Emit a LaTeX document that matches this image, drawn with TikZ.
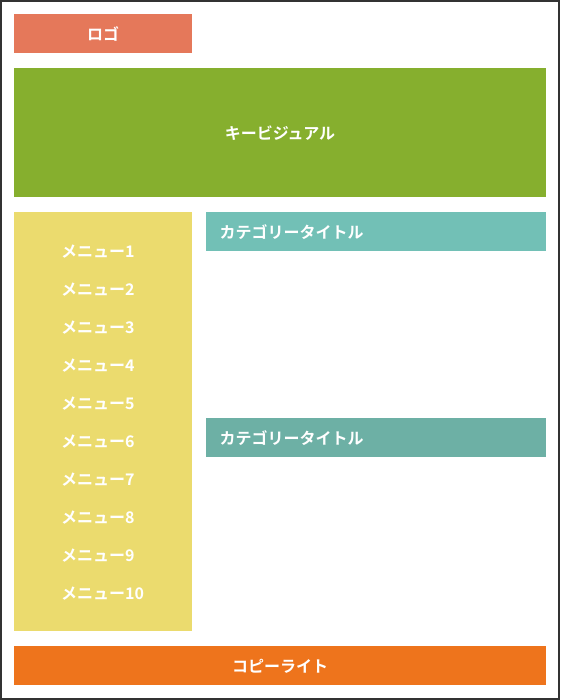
\documentclass[tikz,border=0pt]{standalone}
\usepackage{fontspec}
\setmainfont{Noto Sans CJK JP}[BoldFont={Noto Sans CJK JP Bold}]
\definecolor{logoc}{HTML}{E5785A}
\definecolor{kvc}{HTML}{86AF2E}
\definecolor{menuc}{HTML}{EBDB6E}
\definecolor{catA}{HTML}{72C0B6}
\definecolor{catB}{HTML}{6DB0A5}
\definecolor{copyc}{HTML}{EE741C}
\definecolor{framec}{HTML}{333333}
\newcommand{\dn}[1]{\raisebox{-1pt}[\height][\depth]{#1}}
\tikzset{
  block/.style={anchor=north west, inner sep=0pt, outer sep=0pt, draw=none, text=white,
    font=\fontsize{16}{19}\selectfont\bfseries},
  cattitle/.style={block, minimum width=340pt, minimum height=39pt, text width=313pt, align=left},
  menuitem/.style={anchor=west, inner sep=0pt, text=white, font=\fontsize{16}{19}\selectfont\bfseries},
}
\begin{document}
\begin{tikzpicture}[x=1pt,y=-1pt]
\useasboundingbox (0,0) rectangle (560,700);
\fill[white] (0,0) rectangle (560,700);
\draw[framec, line width=1.6pt] (0.8,0.8) rectangle (559.2,699.2);
\node[block, fill=logoc, minimum width=178pt, minimum height=39pt] (logo) at (14,14) {\dn{ロゴ}};
\node[block, fill=kvc, minimum width=532pt, minimum height=129pt] (kv) at (14,68) {\dn{キービジュアル}};
\node[block, fill=menuc, minimum width=178pt, minimum height=419pt] (menu) at (14,212) {};
\node[cattitle, fill=catA] (cat1) at (206,212) {\dn{カテゴリータイトル}};
\node[cattitle, fill=catB] (cat2) at (206,418) {\dn{カテゴリータイトル}};
\node[block, fill=copyc, minimum width=532pt, minimum height=39pt] (copy) at (14,646) {\dn{コピーライト}};
\foreach \i in {1,...,10}{
  \node[menuitem] (m\i) at (61,{252+38*(\i-1)}) {メニュー\i};
}
\end{tikzpicture}
\end{document}
